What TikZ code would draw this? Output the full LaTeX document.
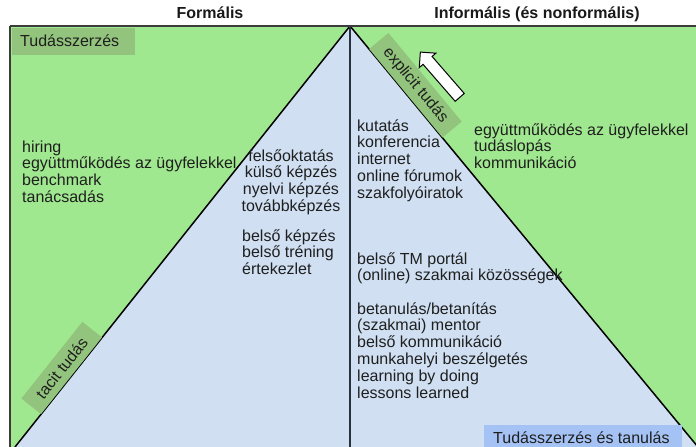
\documentclass[tikz,border=0pt]{standalone}
\usepackage{fontspec}
\setmainfont{Liberation Sans}
\usetikzlibrary{shapes.arrows,calc}
\definecolor{bggreen}{RGB}{160,232,143}
\definecolor{lblue}{RGB}{208,224,242}
\definecolor{taggreen}{RGB}{147,196,125}
\definecolor{tagblue}{RGB}{164,194,244}
\definecolor{framegray}{RGB}{60,60,60}
\definecolor{midline}{RGB}{40,50,60}
\newcommand{\stacklines}[2]{\begin{tabular}[t]{@{}#1@{}}#2\end{tabular}}
\tikzset{
  txt/.style={font=\fontsize{16}{16.8}\selectfont, inner sep=0pt, text=black!88},
  ttl/.style={font=\fontsize{16}{19}\selectfont\bfseries, inner sep=0pt, text=black!90},
  tagbox/.style={fill=taggreen, inner sep=0pt, font=\fontsize{16}{19}\selectfont, text=black!88},
  diag/.style={line width=1.5pt, black},
}
\begin{document}
\begin{tikzpicture}[x=1pt,y=-1pt]
\useasboundingbox (0,0) rectangle (696,447);
\coordinate (apex) at (350,26);
\coordinate (bl) at (15,447);
\coordinate (br) at (698,447);
\coordinate (cb) at (350,447);
\coordinate (tl) at (10,26);
\coordinate (tr) at (696,26);
\coordinate (lb) at (10,447);
\begin{scope}
  \clip (0,0) rectangle (696,447);
  \fill[bggreen] (10,26) rectangle (700,452);
  \fill[lblue] (apex) -- (bl) -- (br) -- cycle;
  \draw[diag] (bl) -- (apex) -- (br);
  \draw[midline, line width=1.8pt] (apex) -- (cb);
  \draw[framegray, line width=1.2pt] (tl) -- (lb);
  \draw[framegray, line width=2.5pt] (tl) -- (tr);
\end{scope}

% titles
\node[ttl, anchor=base] (tF) at (210,19) {Formális};
\node[ttl, anchor=base] (tI) at (537,19) {Informális (és nonformális)};

% tags
\node[fill=taggreen, inner sep=0pt, anchor=north west, minimum width=123, minimum height=27] (tagA) at (12,28) {};
\node[txt, anchor=base west] (tagAtext) at (20,46) {Tudásszerzés};
\node[tagbox, rotate=-50.4, minimum width=115, minimum height=25, anchor=south] (explicit) at ($(apex)!0.16!(br)$) {explicit tudás};
\node[tagbox, rotate=51.5, minimum width=98, minimum height=25, anchor=south] (tacit) at ($(apex)!0.831!(bl)$) {tacit tudás};
\node[single arrow, draw=black, fill=white, line width=1pt, minimum height=60, single arrow head extend=5, inner sep=5.5, rotate=131] (arr) at (442,77) {};

% text blocks
\node[txt, anchor=base west] (leftA) at (22,152) {\stacklines{l}{hiring\\együttműködés az ügyfelekkel\\benchmark\\tanácsadás}};
\node[txt, anchor=base] (midA) at (291,161) {\stacklines{c}{felsőoktatás\\külső képzés\\nyelvi képzés\\továbbképzés}};
\node[txt, anchor=base west] (midB) at (242,241) {\stacklines{l}{belső képzés\\belső tréning\\értekezlet}};
\node[txt, anchor=base west] (rA) at (357,131) {\stacklines{l}{kutatás\\konferencia\\internet\\online fórumok\\szakfolyóiratok}};
\node[txt, anchor=base west] (rB) at (357,264) {\stacklines{l}{belső TM portál\\(online) szakmai közösségek}};
\node[txt, anchor=base west] (rC) at (357,314) {\stacklines{l}{betanulás/betanítás\\(szakmai) mentor\\belső kommunikáció\\munkahelyi beszélgetés\\learning by doing\\lessons learned}};
\node[txt, anchor=base west] (gR) at (474,135) {\stacklines{l}{együttműködés az ügyfelekkel\\tudáslopás\\kommunikáció}};

% bottom box
\node[fill=tagblue, inner sep=0pt, anchor=north west, minimum width=198, minimum height=30] (bbox) at (484,425) {};
\node[txt, anchor=base west] (btxt) at (493,443) {Tudásszerzés és tanulás};
\end{tikzpicture}
\end{document}
